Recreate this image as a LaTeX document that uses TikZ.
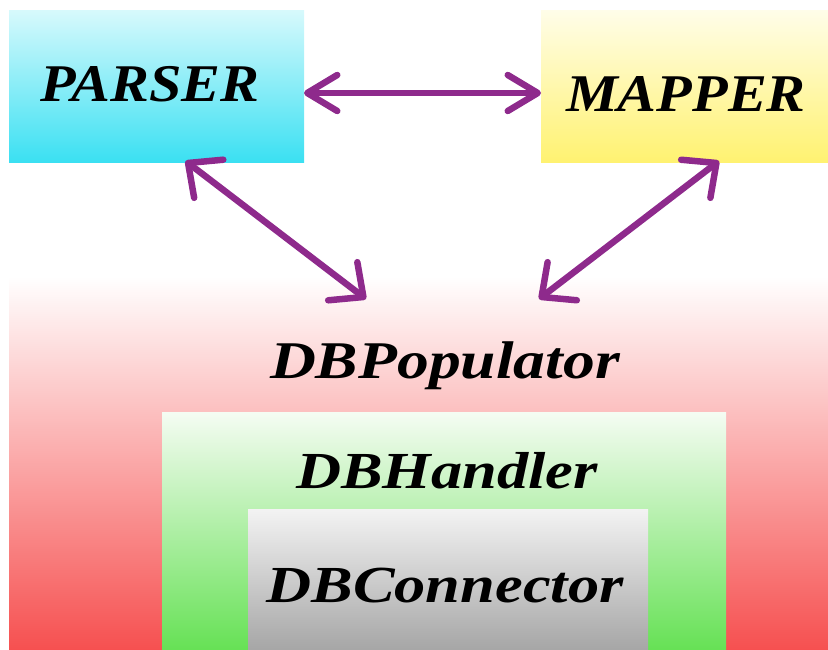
\documentclass[tikz,border=0pt]{standalone}
\usepackage{fontspec}
\usepackage{graphicx}
\usetikzlibrary{arrows.meta}
\newfontfamily\capsfont[FakeStretch=1.1]{Liberation Serif}
\newfontfamily\lowfont[FakeStretch=1.2]{Liberation Serif}
\definecolor{arrowpurple}{RGB}{142,42,140}
\definecolor{cyantop}{RGB}{214,249,252}
\definecolor{cyanbot}{RGB}{58,224,242}
\definecolor{yeltop}{RGB}{255,253,232}
\definecolor{yelbot}{RGB}{255,242,112}
\definecolor{redtop}{RGB}{255,255,255}
\definecolor{redbot}{RGB}{246,80,80}
\definecolor{grntop}{RGB}{245,252,243}
\definecolor{grnbot}{RGB}{102,225,85}
\definecolor{graytop}{RGB}{243,243,243}
\definecolor{graybot}{RGB}{166,166,166}
\begin{document}
\begin{tikzpicture}[x=1pt,y=-1pt,
  box/.style={draw=none, inner sep=0pt, outer sep=0pt, anchor=north west},
  capslab/.style={anchor=base, inner sep=0pt, text=black, font=\capsfont\bfseries\itshape\fontsize{53}{60}\selectfont},
  lowlab/.style={anchor=base, inner sep=0pt, text=black, font=\lowfont\bfseries\itshape\fontsize{53}{60}\selectfont},
  link/.style={draw=arrowpurple, line width=6.5pt, line cap=round, line join=round},
  htips/.style={{Straight Barb[length=30pt,width=36pt,round]}-{Straight Barb[length=30pt,width=36pt,round]}},
  dtips/.style={{Straight Barb[length=26pt,width=48pt,round]}-{Straight Barb[length=26pt,width=48pt,round]}}
]
\useasboundingbox (0,0) rectangle (828,650);

% boxes
\node[box, minimum width=295pt, minimum height=152pt, top color=cyantop, bottom color=cyanbot] (parser) at (9,11) {};
\node[box, minimum width=287pt, minimum height=152pt, top color=yeltop, bottom color=yelbot] (mapper) at (541,11) {};
\node[box, minimum width=819pt, minimum height=374pt, top color=redtop, bottom color=redbot] (pop) at (9,276) {};
\node[box, minimum width=564pt, minimum height=238pt, top color=grntop, bottom color=grnbot] (handler) at (162,412) {};
\node[box, minimum width=400pt, minimum height=141pt, top color=graytop, bottom color=graybot] (conn) at (248,509) {};

% labels
\node[capslab] (parsertxt) at (150,102) {PARSER};
\node[capslab] (mappertxt) at (686,112) {MAPPER};
\node[lowlab] (poptxt) at (445,378) {DBPopulator};
\node[lowlab, font=\lowfont\bfseries\itshape\fontsize{52}{60}\selectfont] (handlertxt) at (447,488) {DBHandler};
\node[lowlab, font=\lowfont\bfseries\itshape\fontsize{52}{60}\selectfont] (conntxt) at (445,602) {DBConnector};

% connector end points
\coordinate (pe) at ([yshift=-6pt]parser.east);
\coordinate (mw) at ([yshift=-6pt]mapper.west);
\coordinate (ps) at ([xshift=29pt,yshift=2pt]parser.south);
\coordinate (ms) at ([xshift=34.5pt,yshift=2pt]mapper.south);
\coordinate (pl) at ([xshift=-52.5pt,yshift=-23pt]pop.north);
\coordinate (pr) at ([xshift=120.5pt,yshift=-23pt]pop.north);

% connectors
\draw[link, htips] (pe) -- (mw);
\draw[link, dtips] (ps) -- (pl);
\draw[link, dtips] (ms) -- (pr);
\end{tikzpicture}
\end{document}
